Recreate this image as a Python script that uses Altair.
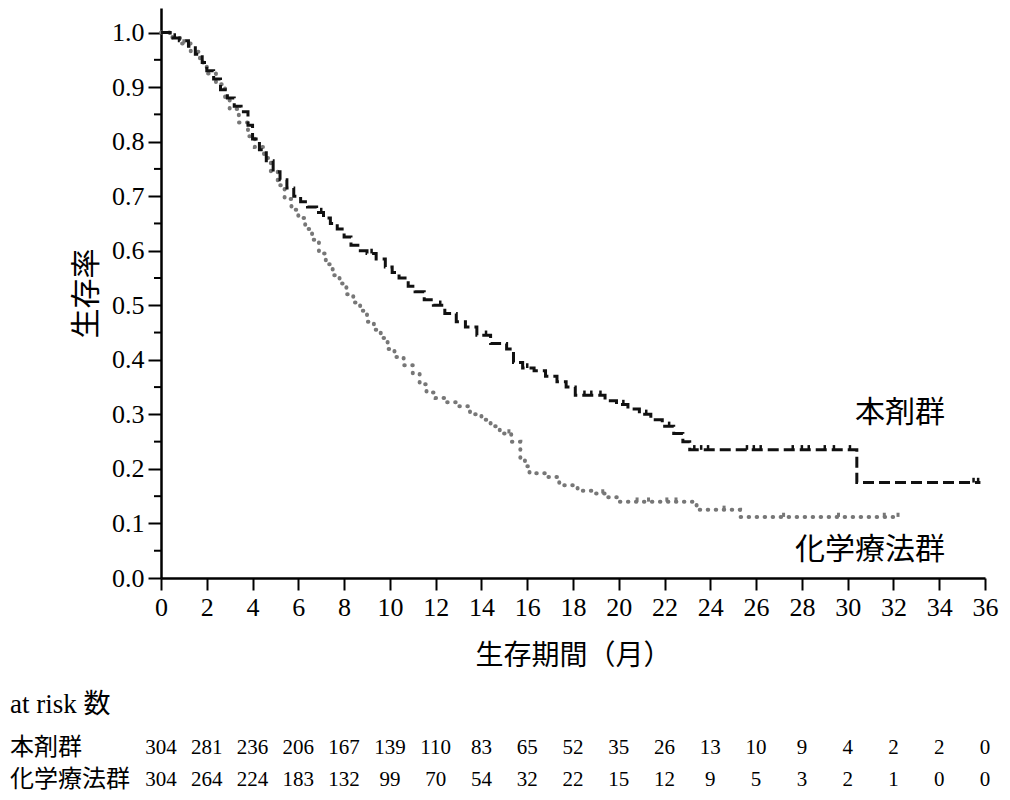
import pandas as pd
import altair as alt

# 本剤群: Kaplan-Meier steps (month, survival)
drug_t = [0, 0.4, 0.8, 1.2, 1.5, 1.8, 2.0, 2.3, 2.6, 2.9, 3.2, 3.5, 3.8, 4.0, 4.3,
          4.6, 4.9, 5.2, 5.5, 5.8, 6.1, 6.4, 6.8, 7.1, 7.4, 7.7, 8.0, 8.3, 8.6,
          9.0, 9.4, 9.8, 10.1, 10.4, 10.8, 11.1, 11.5, 11.9, 12.4, 12.9, 13.3,
          13.8, 14.4, 15.1, 15.4, 15.8, 16.3, 16.8, 17.3, 17.7, 18.1, 19.4, 19.9,
          20.4, 20.9, 21.4, 21.9, 22.4, 22.8, 23.1, 30.4, 35.8]
drug_s = [1.0, 0.99, 0.985, 0.975, 0.96, 0.945, 0.93, 0.915, 0.895, 0.88, 0.865,
          0.855, 0.83, 0.805, 0.785, 0.765, 0.745, 0.73, 0.715, 0.70, 0.69, 0.68,
          0.67, 0.66, 0.65, 0.64, 0.625, 0.61, 0.60, 0.595, 0.585, 0.57, 0.56,
          0.55, 0.535, 0.525, 0.51, 0.50, 0.485, 0.47, 0.46, 0.445, 0.43, 0.42,
          0.395, 0.385, 0.38, 0.37, 0.36, 0.35, 0.335, 0.325, 0.318, 0.31, 0.30,
          0.29, 0.278, 0.265, 0.25, 0.235, 0.175, 0.175]

# 化学療法群
chemo_t = [0, 0.5, 0.9, 1.3, 1.7, 2.0, 2.4, 2.8, 3.0, 3.4, 3.8, 4.1, 4.5, 4.8,
           5.1, 5.4, 5.7, 6.0, 6.3, 6.6, 6.9, 7.2, 7.5, 7.8, 8.1, 8.4, 8.7, 9.0,
           9.3, 9.6, 9.9, 10.2, 10.6, 11.0, 11.3, 11.6, 12.0, 12.5, 13.0, 13.5,
           14.0, 14.4, 14.8, 15.3, 15.7, 15.9, 16.1, 16.9, 17.4, 18.2, 19.0, 19.5,
           20.0, 23.4, 25.3, 32.3]
chemo_s = [1.0, 0.99, 0.98, 0.965, 0.945, 0.925, 0.905, 0.88, 0.86, 0.835, 0.81,
           0.79, 0.77, 0.745, 0.72, 0.695, 0.675, 0.66, 0.64, 0.62, 0.595, 0.575,
           0.555, 0.54, 0.52, 0.505, 0.49, 0.47, 0.455, 0.44, 0.42, 0.405, 0.39,
           0.375, 0.355, 0.34, 0.33, 0.322, 0.315, 0.30, 0.29, 0.278, 0.265, 0.25,
           0.22, 0.205, 0.192, 0.185, 0.17, 0.16, 0.155, 0.148, 0.14, 0.125,
           0.112, 0.112]

# censored observations (month)
drug_censor = [0.6, 7.0, 9.2, 12.2, 14.2, 16.0, 18.5, 18.8, 19.2, 20.2, 21.2,
               22.2, 23.3, 23.6, 23.9, 25.6, 25.9, 26.2, 27.6, 28.0, 28.3, 29.0,
               29.4, 30.1, 35.5, 35.7]
chemo_censor = [1.0, 15.2, 19.3, 20.8, 21.3, 22.1, 22.5, 24.6, 27.2, 29.6,
                31.6, 32.2]

risk_months = list(range(0, 37, 2))
risk_drug = [304, 281, 236, 206, 167, 139, 110, 83, 65, 52, 35, 26, 13, 10, 9, 4, 2, 2, 0]
risk_chemo = [304, 264, 224, 183, 132, 99, 70, 54, 32, 22, 15, 12, 9, 5, 3, 2, 1, 0, 0]

minor_ticks = [0.05, 0.15, 0.25, 0.35, 0.45, 0.55, 0.65, 0.75, 0.85, 0.95]

SERIF = "Liberation Serif"
CJK = "Noto Sans CJK JP"


def surv_at(ts, ss, t):
    s = ss[0]
    for ti, si in zip(ts, ss):
        if ti <= t:
            s = si
    return s


drug_df = pd.DataFrame({"t": drug_t, "s": drug_s})
chemo_df = pd.DataFrame({"t": chemo_t, "s": chemo_s})
drug_c = pd.DataFrame({"t": drug_censor, "s": [surv_at(drug_t, drug_s, c) for c in drug_censor]})
chemo_c = pd.DataFrame({"t": chemo_censor, "s": [surv_at(chemo_t, chemo_s, c) for c in chemo_censor]})
risk_df = pd.DataFrame({"t": risk_months, "drug": risk_drug, "chemo": risk_chemo})
minor_df = pd.DataFrame({"s": minor_ticks})


def X(field="t"):
    return alt.X(
        f"{field}:Q",
        scale=alt.Scale(domain=[0, 36], nice=False, zero=False),
        axis=alt.Axis(
            values=risk_months, title="生存期間（月）", grid=False,
            tickSize=12, tickWidth=2, domainWidth=2.5, labelFlush=False,
            labelFont=SERIF, labelFontSize=26, labelPadding=4,
            titleFont=CJK, titleFontSize=28, titleFontWeight="normal",
            titlePadding=22,
        ),
    )


def Y(field="s"):
    return alt.Y(
        f"{field}:Q",
        scale=alt.Scale(domain=[0, 1.045], nice=False, zero=False),
        axis=alt.Axis(
            values=[i / 10 for i in range(11)], format=".1f", title="生存率",
            grid=False, tickSize=13, tickWidth=2, domainWidth=2.5, labelFlush=False,
            labelFont=SERIF, labelFontSize=26, labelPadding=4,
            titleFont=CJK, titleFontSize=30, titleFontWeight="normal",
            titlePadding=10,
        ),
    )


drug_line = alt.Chart(drug_df).mark_line(
    interpolate="step-after", color="#111111", strokeWidth=3, strokeDash=[11, 5]
).encode(x=X(), y=Y())

chemo_line = alt.Chart(chemo_df).mark_line(
    interpolate="step-after", color="#777777", strokeWidth=4,
    strokeDash=[0.5, 7.5], strokeCap="round"
).encode(x=X(), y=Y())

drug_marks = alt.Chart(drug_c).mark_point(
    shape="M0,-1V0", size=90, strokeWidth=2.5, color="#111111", filled=False, opacity=1
).encode(x=X(), y=Y())

chemo_marks = alt.Chart(chemo_c).mark_point(
    shape="M0,-1V0", size=70, strokeWidth=3, color="#777777", filled=False, opacity=1
).encode(x=X(), y=Y())

minor = alt.Chart(minor_df).mark_rule(color="black", strokeWidth=2).encode(
    y=Y(), x=alt.value(-7), x2=alt.value(0)
)

label_drug = alt.Chart(risk_df.head(1)).mark_text(
    text="本剤群", font=CJK, fontSize=30, color="black", align="center", baseline="middle"
).encode(x=alt.value(739), y=alt.value(405))

label_chemo = alt.Chart(risk_df.head(1)).mark_text(
    text="化学療法群", font=CJK, fontSize=30, color="black", align="center", baseline="middle"
).encode(x=alt.value(709), y=alt.value(542))

risk_head = alt.Chart(risk_df.head(1)).mark_text(
    text="at risk 数", font=f"{SERIF}, {CJK}", fontSize=27, color="black",
    align="left", baseline="middle"
).encode(x=alt.value(-151), y=alt.value(697))

row_drug_name = alt.Chart(risk_df.head(1)).mark_text(
    text="本剤群", font=CJK, fontSize=24, color="black", align="left", baseline="middle"
).encode(x=alt.value(-151), y=alt.value(740))

row_chemo_name = alt.Chart(risk_df.head(1)).mark_text(
    text="化学療法群", font=CJK, fontSize=24, color="black", align="left", baseline="middle"
).encode(x=alt.value(-151), y=alt.value(772))

row_drug = alt.Chart(risk_df).mark_text(
    font=SERIF, fontSize=21, color="black", align="center", baseline="middle"
).encode(x=X(), y=alt.value(740), text="drug:Q")

row_chemo = alt.Chart(risk_df).mark_text(
    font=SERIF, fontSize=21, color="black", align="center", baseline="middle"
).encode(x=X(), y=alt.value(772), text="chemo:Q")

chart = (
    alt.layer(
        chemo_line, drug_line, chemo_marks, drug_marks, minor,
        label_drug, label_chemo, risk_head, row_drug_name, row_chemo_name,
        row_drug, row_chemo,
    )
    .properties(
        width=824, height=570,
        autosize=alt.AutoSizeParams(type="none"),
        padding={"left": 153, "top": 0, "right": 17, "bottom": 221},
        background="white",
    )
    .configure_view(stroke=None)
    .configure_axis(domainColor="black", tickColor="black", labelColor="black",
                    titleColor="black")
)

chart.save("out.html", embed_options={"renderer": "svg", "actions": False})
